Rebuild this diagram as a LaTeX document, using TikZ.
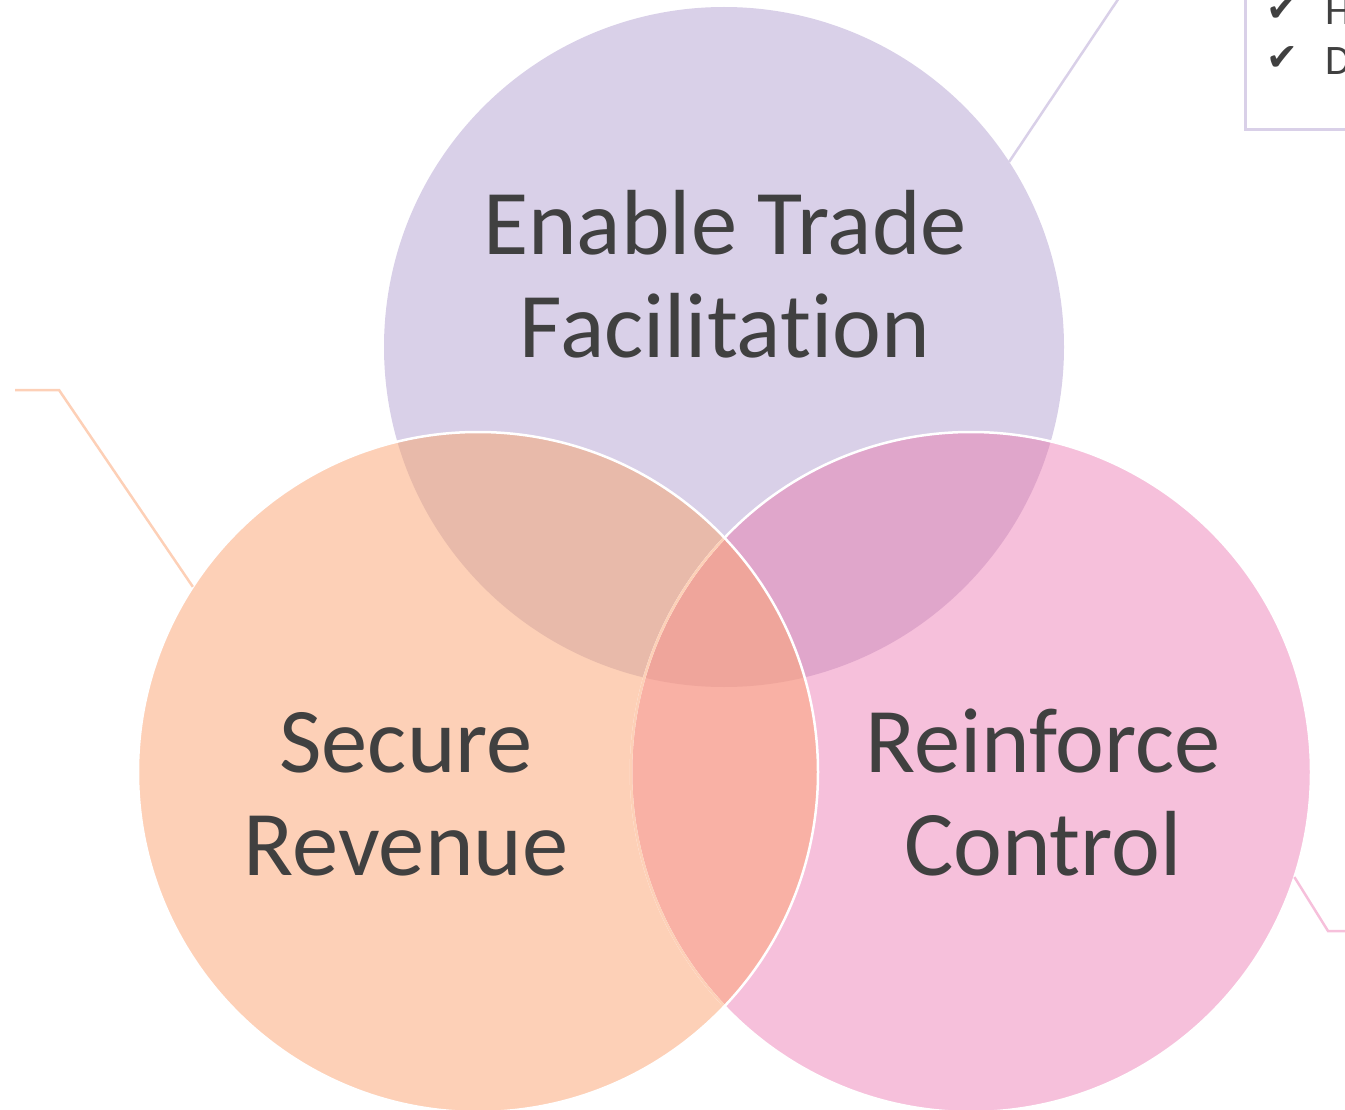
\documentclass[tikz,border=0pt]{standalone}
\usepackage{fontspec}
\setmainfont{Carlito}[Ligatures={NoCommon}]
\newfontfamily\symfont{DejaVu Sans}
\definecolor{cpur}{HTML}{D9D0E8}
\definecolor{corg}{HTML}{FDD0B7}
\definecolor{cpnk}{HTML}{F6C0DB}
\definecolor{cpo}{HTML}{E8BAAA}
\definecolor{cpp}{HTML}{E0A6CB}
\definecolor{cop}{HTML}{F9B1A5}
\definecolor{call}{HTML}{EFA59B}
\definecolor{ctext}{HTML}{404040}
\begin{document}
\begin{tikzpicture}[x=1pt,y=-1pt,
  venn/.style={circle, minimum size=680pt, inner sep=0pt, outer sep=0pt, draw=none},
  big/.style={anchor=base, text=ctext, inner sep=0pt, font=\fontsize{92.5}{102}\selectfont},
  small/.style={anchor=base west, text=ctext, inner sep=0pt, font=\fontsize{42}{50}\selectfont},
  tick/.style={anchor=base west, text=ctext, inner sep=0pt, font=\symfont\fontsize{38}{42}\selectfont},
  callout/.style={line width=2.5pt}]
\clip (0,0) rectangle (1345,1110);
% circles
\node[venn, fill=cpur] (trade) at (724,347) {};
\node[venn, fill=cpnk] (control) at (971,772) {};
\node[venn, fill=corg] (revenue) at (478,772) {};
% overlaps
\begin{scope}
  \clip (724,347) circle[radius=340pt];
  \fill[cpo] (478,772) circle[radius=340pt];
  \fill[cpp] (971,772) circle[radius=340pt];
\end{scope}
\begin{scope}
  \clip (478,772) circle[radius=340pt];
  \fill[cop] (971,772) circle[radius=340pt];
  \begin{scope}
    \clip (724,347) circle[radius=340pt];
    \fill[call] (971,772) circle[radius=340pt];
  \end{scope}
\end{scope}
% outlines
\draw[white, line width=2.5pt] (971,772) circle[radius=340pt];
\begin{scope}
  \clip (478,772) circle[radius=340pt];
  \draw[corg, line width=2.5pt] (971,772) circle[radius=340pt];
\end{scope}
\draw[white, line width=2.5pt] (478,772) circle[radius=340pt];
% callouts
\coordinate (tcend) at (1131,-20);
\draw[callout, draw=cpur] (trade.33) -- (tcend);
\coordinate (rvbend) at (59,390);
\coordinate (rvend) at (15,390);
\draw[callout, draw=corg] (revenue.147) -- (rvbend) -- (rvend);
\coordinate (ctbend) at (1328,931);
\coordinate (ctend) at (1350,931);
\draw[callout, draw=cpnk] (control.-18) -- (ctbend) -- (ctend);
\node[draw=cpur, line width=2.5pt, minimum width=200pt, minimum height=160pt, anchor=south west, inner sep=0pt] (box) at (1244,131) {};
\node[tick] (tk1) at (1266,22) {✔};
\node[tick] (tk2) at (1266,71) {✔};
\node[small] (h) at (1325,25) {H};
\node[small] (d) at (1325,75) {D};
% labels
\node[big] (l1a) at (725,255) {Enable Trade};
\node[big] (l1b) at (725,357) {Facilitation};
\node[big] (l2a) at (406,772) {Secure};
\node[big] (l2b) at (406,875) {Revenue};
\node[big] (l3a) at (1043,772) {Reinforce};
\node[big] (l3b) at (1043,875) {Control};
\end{tikzpicture}
\end{document}
